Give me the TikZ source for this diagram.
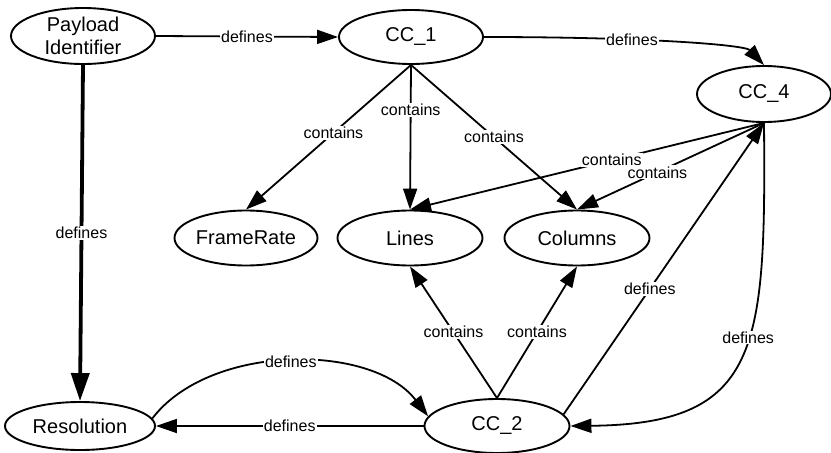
\documentclass[tikz,border=0pt]{standalone}
\usepackage{fontspec}
\setmainfont{Liberation Sans}
\usetikzlibrary{shapes.geometric,arrows.meta}

\begin{document}
\begin{tikzpicture}[x=1pt,y=1pt,
  ent/.style={ellipse,draw,line width=1.9pt,inner sep=0pt,
              font=\fontsize{20}{23}\selectfont,align=center},
  rel/.style={line width=1.8pt,-{Triangle[length=21pt,width=14pt]}},
  strongrel/.style={line width=3.8pt,-{Triangle[length=28pt,width=18pt]}},
  lbl/.style={fill=white,inner sep=1pt,font=\fontsize{16}{18}\selectfont}
]
\fill[white] (0,0) rectangle (831,-453);
\useasboundingbox (0,0) rectangle (831,-453);

% entities
\node[ent,minimum width=144pt,minimum height=56pt] (payload) at (83,-36) {Payload\\Identifier};
\node[ent,minimum width=144pt,minimum height=54pt] (cc1) at (411,-37) {CC\_1};
\node[ent,minimum width=134pt,minimum height=56pt] (cc4) at (764,-94) {CC\_4};
\node[ent,minimum width=143pt,minimum height=55pt] (framerate) at (246,-238) {FrameRate};
\node[ent,minimum width=145pt,minimum height=55pt] (lines) at (410,-238) {Lines};
\node[ent,minimum width=145pt,minimum height=55pt] (columns) at (577,-238) {Columns};
\node[ent,minimum width=150pt,minimum height=48pt] (res) at (80,-426) {Resolution};
\node[ent,minimum width=145pt,minimum height=54pt] (cc2) at (497,-426) {CC\_2};

% defines relations
\draw[rel] (payload.east) -- node[lbl,pos=0.5] {defines} (cc1.west);
\draw[rel] (cc1.east) .. controls (650,-37) and (745,-45) .. node[lbl,pos=0.35] {defines} (cc4.north);
\draw[strongrel] (payload.south) -- node[lbl] {defines} (res.north);
\draw[rel] (cc2.west) -- node[lbl] {defines} (res.east);
\draw[rel] (res.6) .. controls (210,-343) and (372,-343) .. node[lbl] {defines} (cc2.172);
\draw[rel] (cc2.10) -- node[lbl,pos=0.43] {defines} (cc4.south);
\draw[rel] (cc4.south) .. controls (766,-350) and (760,-424) .. node[lbl,pos=0.43] {defines} (cc2.east);

% contains relations
\draw[rel] (cc1.south) -- node[lbl,pos=0.47] {contains} (framerate.north);
\draw[rel] (cc1.south) -- node[lbl,pos=0.31] {contains} (lines.north);
\draw[rel] (cc1.south) -- node[lbl,pos=0.5] {contains} (columns.north);
\draw[rel] (cc4.south) -- node[lbl,pos=0.43] {contains} (lines.north);
\draw[rel] (cc4.south) -- node[lbl,pos=0.57] {contains} (columns.north);
\draw[rel] (cc2.north) -- node[lbl,pos=0.5] {contains} (lines.south);
\draw[rel] (cc2.north) -- node[lbl,pos=0.5] {contains} (columns.south);
\end{tikzpicture}
\end{document}
